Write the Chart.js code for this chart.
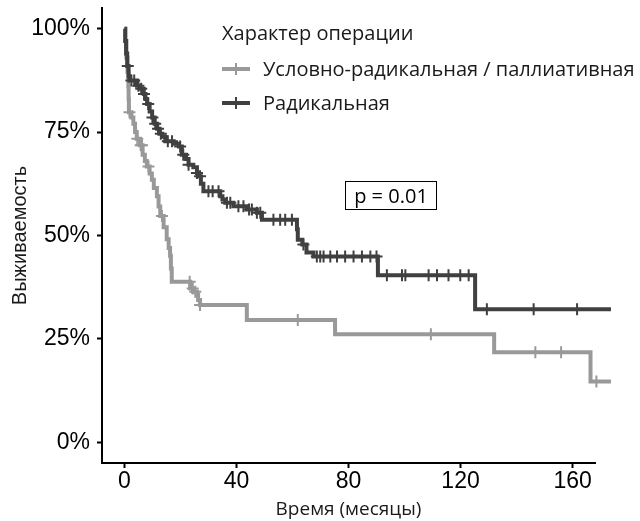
<!DOCTYPE html>
<html lang="ru">
<head>
<meta charset="utf-8">
<title>Выживаемость по характеру операции</title>
<script src="https://cdn.jsdelivr.net/npm/chart.js@4.4.1/dist/chart.umd.min.js"></script>
<style>
  html, body { margin: 0; padding: 0; background: #fff; }
  #wrap { position: relative; width: 640px; height: 521px; }
  #kmChart { position: absolute; left: 0; top: 0; }
  .lg { position: absolute; font-family: "Open Sans", sans-serif; font-size: 20px; line-height: 24px; color: #1a1a1a; white-space: nowrap; }
  .lg svg { position: absolute; left: 0; top: 5px; }
  .lg span { position: absolute; left: 41px; top: 0; }
  .pbox { position: absolute; left: 345px; top: 181px; width: 90px; height: 27px; border: 1.5px solid #000;
          font-family: "Open Sans", sans-serif; font-size: 20px; line-height: 27px; text-align: center; color: #000; }
</style>
</head>
<body>
<div id="wrap">
  <canvas id="kmChart" width="640" height="521"></canvas>
  <div class="lg" style="left:222px; top:21px;">Характер операции</div>
  <div class="lg" style="left:222px; top:57px; width:420px; height:24px;">
    <svg width="28" height="14"><line x1="0" y1="7" x2="28" y2="7" stroke="#999999" stroke-width="4"/><line x1="14" y1="1" x2="14" y2="13" stroke="#999999" stroke-width="2"/></svg>
    <span>Условно-радикальная / паллиативная</span>
  </div>
  <div class="lg" style="left:222px; top:91px; width:420px; height:24px;">
    <svg width="28" height="14"><line x1="0" y1="7" x2="28" y2="7" stroke="#404040" stroke-width="4"/><line x1="14" y1="1" x2="14" y2="13" stroke="#404040" stroke-width="2"/></svg>
    <span>Радикальная</span>
  </div>
  <div class="pbox">p = 0.01</div>
</div>
<script>
// Kaplan-Meier steps: time (months) and survival (%) after each drop
const radTimes = [0, 0.3, 0.6, 1.0, 1.5, 1.8, 4.5, 5.5, 6.9, 7.5, 8.1, 9.0, 9.9, 10.8, 11.7, 12.5, 13.5, 14.6, 17.6, 19.5, 20.5, 22.0, 22.9, 24.6, 25.9, 26.4, 27.3, 28.2, 34.2, 35.0, 36.0, 38.9, 43.7, 47.3, 49.1, 61.6, 61.9, 63.5, 65.0, 67.5, 90.5, 125.2, 173.7];
const radSurv = [100, 97, 94, 91, 88.5, 87.5, 86.2, 85.5, 84.2, 83.0, 81.8, 80.0, 78.5, 77.0, 75.8, 74.6, 73.9, 72.8, 72.2, 71.5, 69.5, 68.5, 67.1, 66.5, 65.1, 64.3, 62.5, 60.7, 59.5, 58.7, 57.9, 57.1, 56.3, 55.5, 53.8, 51.5, 49.0, 47.8, 45.9, 44.9, 40.4, 32.2, 32.2];
const radCensor = [1.2, 2.5, 3.5, 5.0, 6.0, 7.0, 8.5, 10.0, 11.0, 12.0, 13.0, 15.5, 17.0, 19.9, 21.0, 22.9, 25.9, 27.0, 30.0, 31.5, 33.6, 36.6, 37.8, 40.7, 42.5, 44.5, 45.5, 47.3, 48.5, 53.2, 55.6, 57.4, 59.8, 63.9, 68.7, 69.9, 71.1, 73.5, 75.9, 78.8, 81.8, 84.8, 87.8, 90.0, 93.7, 99.1, 100.3, 108.6, 111.6, 115.7, 119.9, 122.9, 129.4, 146.1, 161.6];

const palTimes = [0, 0.3, 0.7, 1.1, 1.4, 1.5, 1.6, 2.5, 3.2, 3.8, 4.4, 5.6, 6.5, 7.3, 8.0, 9.0, 9.8, 10.5, 11.6, 12.2, 12.8, 14.0, 15.1, 15.8, 16.3, 16.6, 16.9, 23.5, 24.5, 25.9, 26.3, 27.0, 43.7, 75.2, 132.0, 166.4, 173.7];
const palSurv = [100, 97, 93, 89.5, 86, 83, 79.8, 78.5, 77, 75, 73.4, 71.8, 69.5, 68, 66.7, 65, 63.5, 61.5, 59.5, 57, 54.7, 52, 49.1, 47, 45.1, 42, 38.8, 37.2, 36.4, 35.6, 34.4, 33.2, 29.6, 26.1, 21.8, 14.7, 14.7];
const palCensor = [1.8, 4.6, 5.8, 6.3, 8.6, 13.4, 23.3, 24.4, 25.3, 27.0, 61.9, 109.4, 146.7, 155.9, 168.5];

const xTicks = [0, 40, 80, 120, 160];
const yTicks = [0, 25, 50, 75, 100];

const DARK = "#404040";
const GREY = "#999999";

function stepPoints(times, surv) {
  return times.map((t, i) => ({ x: t, y: surv[i] }));
}

// survival value of the step curve at a censoring time
function survAt(times, surv, t) {
  let s = surv[0];
  for (let i = 0; i < times.length; i++) if (times[i] <= t) s = surv[i];
  return s;
}

function censorPoints(censor, times, surv) {
  return censor.map((t) => ({ x: t, y: survAt(times, surv, t) }));
}

// keep the plot panel fixed: no extra room for overhanging tick labels
function noPad(s) {
  s.paddingTop = 0;
  s.paddingBottom = 0;
  s.paddingLeft = 0;
  s.paddingRight = 0;
}

const lineStyle = { borderWidth: 4, stepped: "before", pointRadius: 0, fill: false, clip: false };
const markStyle = { showLine: false, pointStyle: "cross", pointRadius: 6, pointBorderWidth: 2, clip: false };

new Chart(document.getElementById("kmChart"), {
  type: "line",
  data: {
    datasets: [
      { ...lineStyle, data: stepPoints(radTimes, radSurv), borderColor: DARK, order: 1 },
      { ...markStyle, data: censorPoints(radCensor, radTimes, radSurv), borderColor: DARK, pointBorderColor: DARK, order: 0 },
      { ...lineStyle, data: stepPoints(palTimes, palSurv), borderColor: GREY, order: 3 },
      { ...markStyle, data: censorPoints(palCensor, palTimes, palSurv), borderColor: GREY, pointBorderColor: GREY, order: 2 },
    ],
  },
  options: {
    responsive: false,
    animation: false,
    layout: { padding: { top: 3, right: 45, left: 0, bottom: 0 } },
    plugins: { legend: { display: false }, tooltip: { enabled: false } },
    scales: {
      x: {
        type: "linear",
        min: -8,
        max: 168,
        afterBuildTicks: (s) => { s.ticks = xTicks.map((v) => ({ value: v })); },
        afterFit: (s) => { s.height = 58; noPad(s); },
        ticks: { color: "#000", font: { family: "Liberation Sans", size: 23 }, padding: 0, maxRotation: 0 },
        grid: { drawOnChartArea: false, tickLength: 5, tickColor: "#000", tickWidth: 2 },
        border: { color: "#000", width: 2 },
        title: { display: true, text: "Время (месяцы)", color: "#1a1a1a", font: { family: "Open Sans", size: 19 }, padding: 0 },
      },
      y: {
        type: "linear",
        min: -5,
        max: 105,
        afterBuildTicks: (s) => { s.ticks = yTicks.map((v) => ({ value: v })); },
        afterFit: (s) => { s.width = 102; noPad(s); },
        ticks: { color: "#000", font: { family: "Liberation Sans", size: 23 }, padding: 7, callback: (v) => v + "%" },
        grid: { drawOnChartArea: false, tickLength: 5, tickColor: "#000", tickWidth: 2 },
        border: { color: "#000", width: 2 },
        title: { display: true, text: "Выживаемость", color: "#1a1a1a", font: { family: "Liberation Sans", size: 20 }, padding: { top: 8, bottom: 0 } },
      },
    },
  },
});
</script>
</body>
</html>
